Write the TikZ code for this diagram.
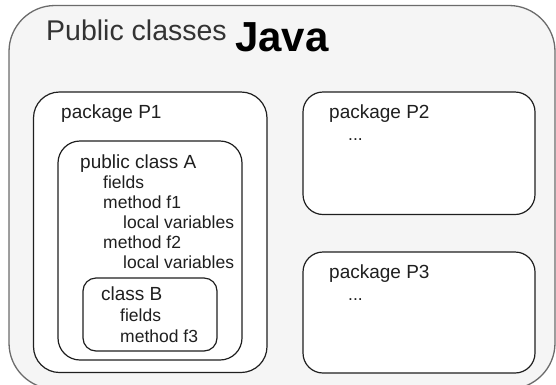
\documentclass[tikz,border=0pt]{standalone}
\usepackage{fontspec}
\setmainfont{Liberation Sans}
\newcommand\headsize{\fontsize{19}{22}\selectfont}
\newcommand\itemsize{\fontsize{17.5}{20}\selectfont}

\begin{document}
\begin{tikzpicture}[x=1pt, y=-1pt,
  outerbox/.style={draw=black!58, fill=black!4, line width=1.3pt, rounded corners=46pt},
  pkgbox/.style={draw=black!88, fill=white, line width=1.2pt, rounded corners=#1},
  pkgbox/.default=20pt,
  headtxt/.style={anchor=base west, inner sep=0pt, text=black!88, font=\headsize},
  itemtxt/.style={anchor=base west, inner sep=0pt, text=black!88, font=\itemsize}]

\useasboundingbox (0,0) rectangle (556,384);

\coordinate (O1) at (9,5.5);
\coordinate (O2) at (555,389);
\coordinate (P1a) at (33.5,92);
\coordinate (P1b) at (267,372.5);
\coordinate (Aa) at (58,141);
\coordinate (Ab) at (242,360);
\coordinate (Ba) at (83,278);
\coordinate (Bb) at (217,351);
\coordinate (P2a) at (303,92);
\coordinate (P2b) at (535,214.5);
\coordinate (P3a) at (303,252);
\coordinate (P3b) at (535,373);

\draw[outerbox] (O1) rectangle (O2);
\draw[pkgbox=26pt] (P1a) rectangle (P1b);
\draw[pkgbox=22pt] (Aa) rectangle (Ab);
\draw[pkgbox=13pt] (Ba) rectangle (Bb);
\draw[pkgbox] (P2a) rectangle (P2b);
\draw[pkgbox] (P3a) rectangle (P3b);

% title
\node[anchor=base west, inner sep=0pt, text=black!80, font=\fontsize{28.5}{32}\selectfont] (title) at (46,40) {Public classes};
\node[anchor=base west, inner sep=0pt, font=\bfseries\fontsize{42}{46}\selectfont] (java) at (235,51) {Java};

% package P1
\node[headtxt] (p1) at (61,118) {package P1};
\node[headtxt] (clsA) at (80,168) {public class A};
\node[itemtxt] (fldA) at (103,188) {fields};
\node[itemtxt] (mf1) at (103,208) {method f1};
\node[itemtxt] (lv1) at (123,228) {local variables};
\node[itemtxt] (mf2) at (103,248) {method f2};
\node[itemtxt] (lv2) at (123,268) {local variables};
\node[headtxt] (clsB) at (101,300) {class B};
\node[itemtxt] (fldB) at (120,321) {fields};
\node[itemtxt] (mf3) at (120,342) {method f3};

% packages P2, P3
\node[headtxt] (p2) at (329,118) {package P2};
\node[itemtxt] (dots2) at (348,140) {...};
\node[headtxt] (p3) at (329,278) {package P3};
\node[itemtxt] (dots3) at (348,300) {...};

\end{tikzpicture}
\end{document}
